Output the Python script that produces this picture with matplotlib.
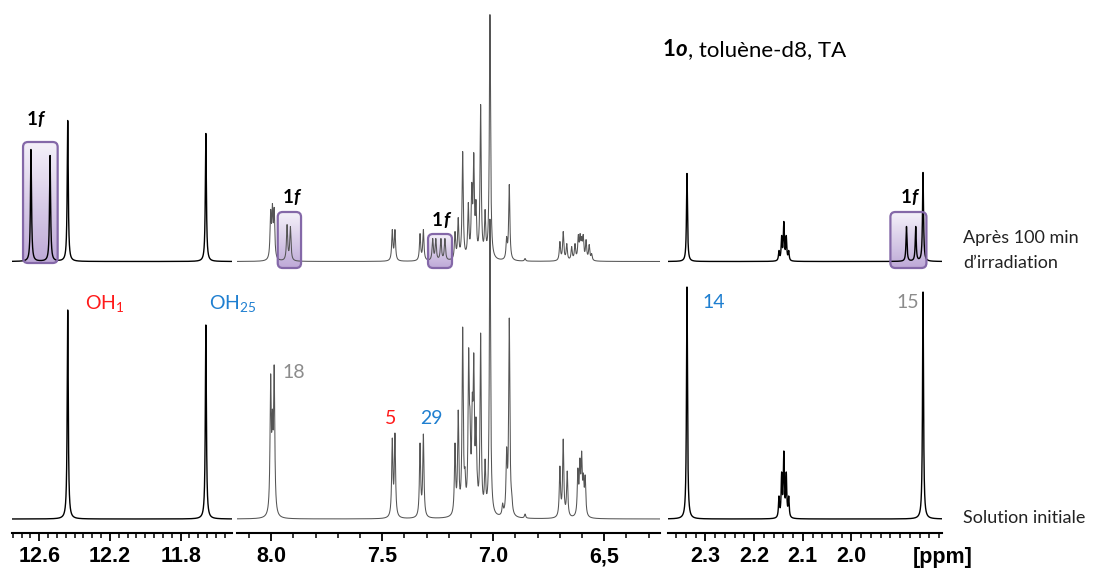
import numpy as np
import matplotlib
matplotlib.use('Agg')
import matplotlib.pyplot as plt
from matplotlib.patches import FancyBboxPatch
from matplotlib.colors import LinearSegmentedColormap
from matplotlib.ticker import MultipleLocator

W, H = 1094, 569

# peak lists: chemical shift (ppm) and height (px above baseline)
# bottom trace = "Solution initiale", top trace = "Après 100 min d'irradiation"
p1_ppm_bot = [12.439, 11.657]
p1_h_bot = [209, 194]
p1_ppm_top = [12.647, 12.539, 12.439, 11.657]
p1_h_top = [112, 106, 141, 128]

p2_ppm_bot = [8.003, 7.995, 7.987, 7.455, 7.443, 7.330, 7.315,
              7.1725, 7.158, 7.138, 7.1275, 7.111, 7.105, 7.0946, 7.088, 7.078,
              7.072, 7.057, 7.037, 7.015,
              6.958, 6.940, 6.928, 6.917, 6.857,
              6.700, 6.685, 6.667, 6.619, 6.610, 6.602, 6.594, 6.586]
p2_h_bot = [145, 110, 154, 81, 86, 76, 85,
            76, 109, 192, 52, 171, 110, 126, 166, 102,
            45, 186, 60, 300,
            16, 72, 201, 28, 5,
            53, 80, 48, 51, 61, 68, 46, 44]
p2_ppm_top = [8.003, 7.995, 7.987, 7.929, 7.914, 7.455, 7.443, 7.330, 7.315,
              7.273, 7.259, 7.236, 7.218,
              7.1725, 7.158, 7.138, 7.1126, 7.097, 7.088, 7.078, 7.057, 7.037, 7.015,
              6.940, 6.928, 6.857,
              6.700, 6.685, 6.669, 6.647, 6.632, 6.617, 6.609, 6.602, 6.595,
              6.582, 6.568, 6.557]
p2_h_top = [52, 58, 54, 37, 35, 32, 32, 28, 32,
            23, 23, 23, 23,
            30, 44, 110, 59, 79, 109, 62, 157, 52, 247,
            25, 77, 3,
            20, 30, 18, 15, 18, 27, 28, 25, 27,
            22, 17, 8]

p3_ppm_bot = [2.338, 2.149, 2.1435, 2.139, 2.134, 2.129, 1.853]
p3_h_bot = [232, 23, 47, 68, 47, 23, 227]
p3_ppm_top = [2.338, 2.149, 2.1435, 2.139, 2.134, 2.129, 1.887, 1.868, 1.853]
p3_h_top = [88, 11, 26, 40, 26, 11, 35, 35, 89]

p1_ticks = [12.6, 12.2, 11.8]
p1_labels = ['12.6', '12.2', '11.8']
p2_ticks = [8.0, 7.5, 7.0, 6.5]
p2_labels = ['8.0', '7.5', '7.0', '6,5']
p3_ticks = [2.3, 2.2, 2.1, 2.0]
p3_labels = ['2.3', '2.2', '2.1', '2.0']

TOP_OFFSET = 257.5

plt.rcParams['font.family'] = ['Lato', 'DejaVu Sans']
plt.rcParams['mathtext.fontset'] = 'custom'
plt.rcParams['mathtext.rm'] = 'Lato'
plt.rcParams['mathtext.it'] = 'Lato:italic'
plt.rcParams['mathtext.bf'] = 'Lato:bold'


def spectrum(x, ppm, h, w):
    # sum of lorentzian lines whose maxima hit the read heights
    ppm = np.asarray(ppm, float)
    h = np.asarray(h, float)
    A = 1.0 / (1.0 + ((ppm[:, None] - ppm[None, :]) / w) ** 2)
    amp = np.clip(np.linalg.solve(A, h), 0, None)
    return (amp[None, :] / (1.0 + ((x[:, None] - ppm[None, :]) / w) ** 2)).sum(axis=1)


fig = plt.figure(figsize=(W / 100, H / 100), dpi=100)


def px_axes(left, right):
    return fig.add_axes([left / W, (H - 533) / H, (right - left) / W, (533 - 10) / H])


def fx(px):
    return px / W


def fy(py):
    return 1 - py / H


box_cmap = LinearSegmentedColormap.from_list('box', ['#b7a0d3', '#f3eff9'])


def add_box(ax, a, b, y0, y1, pxppm):
    xl, xr = min(a, b), max(a, b)
    patch = FancyBboxPatch((xl, y0), xr - xl, y1 - y0,
                           boxstyle='round,pad=0,rounding_size=%f' % (5.0 / pxppm),
                           mutation_aspect=pxppm, facecolor='none',
                           edgecolor='#8468a8', lw=1.6, zorder=3)
    ax.add_patch(patch)
    im = ax.imshow(np.linspace(0, 1, 64)[:, None], cmap=box_cmap, extent=(xl, xr, y0, y1),
                   origin='lower', aspect='auto', zorder=1, interpolation='bilinear', alpha=0.9)
    im.set_clip_path(patch)


panels = [
    dict(px=(12, 232), xlim=(12.7545, 11.509), pxppm=176.7, w=0.0035, color='black', lw=1.0,
         bot=(p1_ppm_bot, p1_h_bot), top=(p1_ppm_top, p1_h_top),
         ticks=(p1_ticks, p1_labels), minor=0.05),
    dict(px=(237, 660), xlim=(8.1545, 6.249), pxppm=222.0, w=0.0032, color='#555555', lw=0.75,
         bot=(p2_ppm_bot, p2_h_bot), top=(p2_ppm_top, p2_h_top),
         ticks=(p2_ticks, p2_labels), minor=0.1),
    dict(px=(668, 942), xlim=(2.377, 1.814), pxppm=487.0, w=0.0012, color='black', lw=1.0,
         bot=(p3_ppm_bot, p3_h_bot), top=(p3_ppm_top, p3_h_top),
         ticks=(p3_ticks, p3_labels), minor=0.02),
]

axes = []
for p in panels:
    ax = px_axes(*p['px'])
    x = np.linspace(p['xlim'][0], p['xlim'][1], 12000)
    yb = spectrum(x, *p['bot'], p['w'])
    yt = spectrum(x, *p['top'], p['w']) + TOP_OFFSET
    ax.plot(x, yb, color=p['color'], lw=p['lw'], zorder=2)
    ax.plot(x, yt, color=p['color'], lw=p['lw'], zorder=2)
    for s in ['left', 'right', 'top']:
        ax.spines[s].set_visible(False)
    ax.spines['bottom'].set_linewidth(1.5)
    ax.set_yticks([])
    ax.set_xticks(p['ticks'][0], p['ticks'][1], fontsize=15.5, fontweight='bold',
                  fontfamily='Liberation Sans')
    ax.xaxis.set_minor_locator(MultipleLocator(p['minor']))
    ax.tick_params(axis='x', which='major', direction='out', length=5.5, width=1.3, pad=4)
    ax.tick_params(axis='x', which='minor', direction='out', length=3.5, width=1.1)
    ax.patch.set_alpha(0)
    axes.append(ax)

ax1, ax2, ax3 = axes

# purple "1f" boxes
add_box(ax1, 12.692, 12.496, 256, 377, 176.7)
add_box(ax2, 7.971, 7.866, 251, 307, 222.0)
add_box(ax2, 7.294, 7.186, 251, 285, 222.0)
add_box(ax3, 1.920, 1.846, 251, 307, 487.0)

for p, ax in zip(panels, axes):
    ax.set_xlim(*p['xlim'])
    ax.set_ylim(-14, 509)


def chain(parent, s, **kw):
    return ax1.annotate(s, xy=(1, 0), xycoords=parent, va='bottom', ha='left',
                        annotation_clip=False, **kw)


# "1f" labels
for lx, ly in [(26.7, 125), (282.7, 203.3), (432, 226), (900.7, 203.3)]:
    t = fig.text(fx(lx), fy(ly), '1', fontsize=13.5, fontweight='bold', va='baseline', ha='left')
    chain(t, 'f', fontsize=13.5, fontweight='bold', style='italic')

# title
t = fig.text(fx(663), fy(56), '1', fontsize=16, fontweight='bold', va='baseline', ha='left')
t = chain(t, 'o', fontsize=16, fontweight='bold', style='italic')
chain(t, ', toluène-d8, TA', fontsize=16)

red = '#ff1a1a'
blue = '#1f7fd0'
grey = '#8c8c8c'
fig.text(fx(85), fy(303), 'OH$_1$', fontsize=14, color=red, va='center', ha='left')
fig.text(fx(209), fy(303), 'OH$_{25}$', fontsize=14, color=blue, va='center', ha='left')
fig.text(fx(293.3), fy(372), '18', fontsize=14, color=grey, va='center', ha='center')
fig.text(fx(390.5), fy(418), '5', fontsize=14, color=red, va='center', ha='center')
fig.text(fx(431.7), fy(418), '29', fontsize=14, color=blue, va='center', ha='center')
fig.text(fx(713.3), fy(302.5), '14', fontsize=14, color=blue, va='center', ha='center')
fig.text(fx(907.5), fy(302.5), '15', fontsize=14, color=grey, va='center', ha='center')

fig.text(fx(963), fy(243.3), 'Après 100 min', fontsize=13, color='#222222', va='baseline')
fig.text(fx(963), fy(268.3), 'd\u2019irradiation', fontsize=13, color='#222222', va='baseline')
fig.text(fx(963), fy(523.3), 'Solution initiale', fontsize=13, color='#222222', va='baseline')

fig.text(fx(943), fy(558), '[ppm]', fontsize=15.5, fontweight='bold', fontfamily='Liberation Sans',
         va='center', ha='center')

fig.savefig('out.png', dpi=100)
